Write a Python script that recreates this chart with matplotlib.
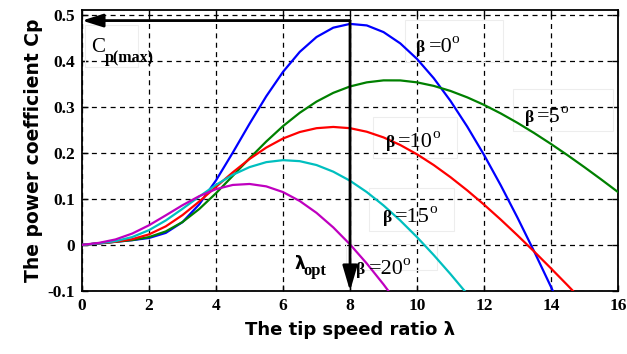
import matplotlib
matplotlib.use("Agg")
import matplotlib.pyplot as plt
from matplotlib.patches import Rectangle

# ---- data ----
lam = [0, 0.5, 1, 1.5, 2, 2.5, 3, 3.5, 4, 4.5, 5, 5.5, 6, 6.5, 7, 7.5, 8,
       8.5, 9, 9.5, 10, 10.5, 11, 11.5, 12, 12.5, 13, 13.5, 14, 14.5, 15,
       15.5, 16]
cp_b0 = [0, 0.0034, 0.0068, 0.0103, 0.0151, 0.0261, 0.0495, 0.0882, 0.1401,
         0.2003, 0.2629, 0.3227, 0.3757, 0.4191, 0.4513, 0.4716, 0.4798,
         0.4765, 0.4620, 0.4375, 0.4037, 0.3618, 0.3125, 0.2567, 0.1954,
         0.1293, 0.0590, -0.0147, -0.0913, -0.1703]
cp_b5 = [0, 0.0034, 0.0068, 0.0106, 0.0170, 0.0293, 0.0497, 0.0780, 0.1123,
         0.1499, 0.1880, 0.2245, 0.2579, 0.2869, 0.3111, 0.3301, 0.3440,
         0.3529, 0.3572, 0.3571, 0.3529, 0.3452, 0.3342, 0.3203, 0.3040,
         0.2854, 0.2649, 0.2427, 0.2191, 0.1944, 0.1686, 0.1420, 0.1147]
cp_b10 = [0, 0.0034, 0.0070, 0.0125, 0.0229, 0.0403, 0.0648, 0.0943, 0.1261,
          0.1575, 0.1865, 0.2113, 0.2310, 0.2451, 0.2534, 0.2561, 0.2534,
          0.2457, 0.2334, 0.2169, 0.1967, 0.1733, 0.1470, 0.1183, 0.0875,
          0.0549, 0.0207, -0.0146, -0.0510, -0.0881, -0.1259]
cp_b15 = [0, 0.0035, 0.0083, 0.0171, 0.0321, 0.0531, 0.0784, 0.1050, 0.1304,
          0.1522, 0.1689, 0.1797, 0.1840, 0.1818, 0.1734, 0.1590, 0.1393,
          0.1147, 0.0857, 0.0530, 0.0169, -0.0221, -0.0634, -0.1068]
cp_b20 = [0.0001, 0.0044, 0.0119, 0.0247, 0.0427, 0.0642, 0.0862, 0.1059,
          0.1211, 0.1302, 0.1323, 0.1271, 0.1147, 0.0953, 0.0696, 0.0380,
          0.0011, -0.0403, -0.0857, -0.1345]

series = [cp_b0, cp_b5, cp_b10, cp_b15, cp_b20]
colors = ['#0000ff', '#008000', '#ff0000', '#00bfbf', '#bf00bf']
beta_labels = ['=0', '=5', '=10', '=15', '=20']
label_pos = [(10.3, 0.418), (13.55, 0.266), (9.4, 0.212), (9.31, 0.049), (8.51, -0.064)]
label_boxes = [(9.64, 0.397, 12.57, 0.488), (12.87, 0.247, 15.85, 0.338),
               (8.69, 0.188, 11.19, 0.277), (8.57, 0.030, 11.10, 0.123),
               (7.88, -0.054, 10.60, 0.002)]
lam_opt = 8.0
cp_max = 0.487
xticks = [0, 2, 4, 6, 8, 10, 12, 14, 16]
yticks = [-0.1, 0, 0.1, 0.2, 0.3, 0.4, 0.5]
ytick_labels = ['-0.1', '0', '0.1', '0.2', '0.3', '0.4', '0.5']

fig = plt.figure(figsize=(6.27, 3.54), dpi=100)
ax = fig.add_axes([0.1308, 0.178, 0.8549, 0.7938])

# faint annotation boxes
for (x0, y0, x1, y1) in label_boxes + [(0.09, 0.386, 1.67, 0.477)]:
    ax.add_patch(Rectangle((x0, y0), x1 - x0, y1 - y0, fill=False,
                           edgecolor='#ededed', lw=0.8, zorder=1))

for cp, c in zip(series, colors):
    ax.plot(lam[:len(cp)], cp, color=c, lw=1.6, zorder=3)

ax.set_xlim(0, 16)
ax.set_ylim(-0.1, 0.51)
ax.set_xticks(xticks)
ax.set_yticks(yticks)
ax.set_yticklabels(ytick_labels)
ax.grid(True, color='black', linestyle=(0, (4, 3.5)), linewidth=0.9)
ax.set_axisbelow(True)
for s in ax.spines.values():
    s.set_linewidth(1.3)
ax.tick_params(direction='in', length=4, width=1, top=True, right=True,
               labelsize=12.5, pad=5)
for t in ax.get_xticklabels() + ax.get_yticklabels():
    t.set_fontfamily('Liberation Serif')
    t.set_fontweight('bold')

ax.set_xlabel('The tip speed ratio λ', fontsize=13, fontweight='bold',
              family='DejaVu Sans', labelpad=5)
ax.set_ylabel('The power coefficient Cp', fontsize=13.5, fontweight='bold',
              family='DejaVu Sans', labelpad=3)

# beta labels
fig.canvas.draw()
for (x, y), txt in zip(label_pos, beta_labels):
    ax.annotate('β', (x, y), xytext=(-1.5, 0), textcoords='offset points',
                ha='right', va='baseline', fontsize=12.5, fontweight='bold',
                family='Liberation Serif', zorder=5)
    t = ax.annotate(txt, (x, y), xytext=(1, 0), textcoords='offset points',
                    ha='left', va='baseline', fontsize=16,
                    family='Liberation Serif', zorder=5)
    bb = t.get_window_extent(renderer=fig.canvas.get_renderer())
    dx = bb.x1 - ax.transData.transform((x, y))[0]
    ax.annotate('o', (x, y), xytext=(dx - 0.5, 9),
                textcoords='offset pixels', ha='left', va='baseline',
                fontsize=11, family='Liberation Serif', zorder=5)

# Cp(max) label
ax.annotate('C', (0.69, 0.418), ha='right', va='baseline', fontsize=15,
            family='Liberation Serif', zorder=5)
ax.annotate('p(max)', (0.69, 0.397), ha='left', va='baseline', fontsize=11.5,
            fontweight='bold', family='Liberation Serif', zorder=5)

# lambda_opt label
ax.annotate('λ', (6.51, -0.052), ha='center', va='baseline', fontsize=12.5,
            fontweight='bold', family='DejaVu Sans', zorder=5)
ax.annotate('opt', (6.62, -0.066), ha='left', va='baseline', fontsize=12,
            fontweight='bold', family='Liberation Serif', zorder=5)

# arrows for Cp(max) and lambda_opt
ax.annotate('', xy=(0, cp_max), xytext=(lam_opt, cp_max),
            arrowprops=dict(arrowstyle='-|>,head_length=0.7,head_width=0.22',
                            color='k', lw=2, mutation_scale=18,
                            shrinkA=0, shrinkB=0), zorder=6)
ax.annotate('', xy=(lam_opt, -0.1), xytext=(lam_opt, cp_max),
            arrowprops=dict(arrowstyle='-|>,head_length=0.85,head_width=0.25',
                            color='k', lw=2, mutation_scale=18,
                            shrinkA=0, shrinkB=0), zorder=6)

fig.savefig('out.png', dpi=100)
